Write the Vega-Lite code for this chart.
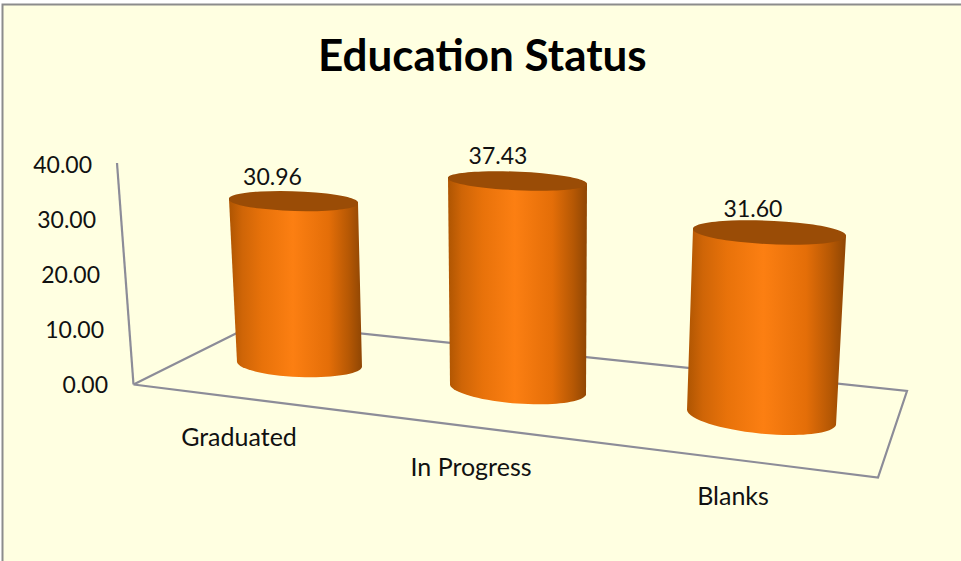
{
"$schema":"https://vega.github.io/schema/vega-lite/v6.json",
"width":961,"height":561,"padding":0,"autosize":"none","background":"#ffffff",
"view":{"stroke":null},
"config":{"text":{"font":"Lato","fontSize":23,"color":"#111111"}},
"title":{"text":"Education Status","font":"Lato","fontSize":44,"fontWeight":"bold","color":"#000000","anchor":"start","orient":"top","offset":-115,"dx":318,"baseline":"alphabetic"},
"data":{"values":[{"category":"Graduated","value":30.96},{"category":"In Progress","value":37.43},{"category":"Blanks","value":31.6}]},
"resolve":{"scale":{"x":"independent","y":"independent"},"axis":{"y":"independent","x":"independent"}},
"layer":[
{"data":{"values":[{"x0":2.5,"y0":4.5,"x1":970,"y1":570}]},
 "mark":{"type":"rect","fill":"#FFFFE1","stroke":"#8C8C8C","strokeWidth":2},
 "encoding":{"x":{"field":"x0","type":"quantitative","scale":{"domain":[0,961],"range":[0,961],"nice":false,"zero":false},"axis":null},"x2":{"field":"x1"},
 "y":{"field":"y0","type":"quantitative","scale":{"domain":[0,561],"range":[0,561],"nice":false,"zero":false},"axis":null},"y2":{"field":"y1"}}},
{"data":{"values":[
 {"edge":"wall","seq":1,"across":117,"down":163},{"edge":"wall","seq":2,"across":133.5,"down":384.5},
 {"edge":"floor","seq":3,"across":133.5,"down":384.5},{"edge":"floor","seq":4,"across":258,"down":322.6},{"edge":"floor","seq":5,"across":907,"down":391},{"edge":"floor","seq":6,"across":878,"down":477.5},{"edge":"floor","seq":7,"across":133.5,"down":384.5}]},
 "mark":{"type":"line","stroke":"#8C8C98","strokeWidth":2.2,"strokeJoin":"miter"},
 "encoding":{"x":{"field":"across","type":"quantitative","scale":{"domain":[0,961],"range":[0,961],"nice":false,"zero":false},"axis":null},
 "y":{"field":"down","type":"quantitative","scale":{"domain":[0,561],"range":[0,561],"nice":false,"zero":false},"axis":null},
 "order":{"field":"seq"},"detail":{"field":"edge"}}},
{"data":{"values":[{"tick":0},{"tick":10},{"tick":20},{"tick":30},{"tick":40}]},
 "mark":{"type":"text","align":"right","baseline":"middle"},
 "encoding":{"text":{"field":"tick","type":"quantitative","format":".2f"},
 "x":{"field":"tick","type":"quantitative","scale":{"domain":[0,40],"range":[108,92],"nice":false,"zero":false},"axis":null},
 "y":{"field":"tick","type":"quantitative","scale":{"domain":[0,40],"range":[386,166],"nice":false},"axis":null}}},
{"transform":[{"filter":"datum.category==='Graduated'"}],
 "encoding":{"x":{"field":"category","type":"nominal","scale":{"type":"band","domain":["Graduated"],"range":[229,358],"paddingInner":0,"paddingOuter":0},"axis":null},
 "y":{"field":"value","type":"quantitative","scale":{"domain":[0,40],"range":[364.5,153.3],"nice":false},"axis":null}},
 "layer":[
 {"mark":{"type":"point","filled":true,"opacity":1,"size":4,"shape":"M-64.5,-2L64.5,2L68.5,166A62.6,13 2.3 0 1 -56.5,161Z","fill":{"gradient":"linear","x1":0,"x2":1,"y1":0,"y2":0,"stops":[{"offset":0,"color":"#AE5502"},{"offset":0.1,"color":"#CF6507"},{"offset":0.25,"color":"#E8720A"},{"offset":0.48,"color":"#FC7F12"},{"offset":0.75,"color":"#E46E08"},{"offset":0.9,"color":"#B65804"},{"offset":1,"color":"#8F4604"}]}}},
 {"mark":{"type":"point","filled":true,"opacity":1,"size":4,"shape":"M-64.5,-2A64.6,9.5 1.8 1 1 64.5,2A64.6,9.5 1.8 1 1 -64.5,-2Z","fill":"#9A4C06"}},
 {"mark":{"type":"text","dx":-21,"dy":-23},"encoding":{"text":{"field":"value","format":".2f"}}},
 {"mark":{"type":"text","dx":-54.5,"dy":73.5,"fontSize":25},"encoding":{"text":{"field":"category"},"y":{"datum":0}}}
 ]},
{"transform":[{"filter":"datum.category==='In Progress'"}],
 "encoding":{"x":{"field":"category","type":"nominal","scale":{"type":"band","domain":["In Progress"],"range":[448,587],"paddingInner":0,"paddingOuter":0},"axis":null},
 "y":{"field":"value","type":"quantitative","scale":{"domain":[0,40],"range":[390,166.6],"nice":false},"axis":null}},
 "layer":[
 {"mark":{"type":"point","filled":true,"opacity":1,"size":4,"shape":"M-69.5,-3L69.5,3L68.5,214A68.5,15 4.2 0 1 -67.5,204Z","fill":{"gradient":"linear","x1":0,"x2":1,"y1":0,"y2":0,"stops":[{"offset":0,"color":"#AE5502"},{"offset":0.1,"color":"#CF6507"},{"offset":0.25,"color":"#E8720A"},{"offset":0.48,"color":"#FC7F12"},{"offset":0.75,"color":"#E46E08"},{"offset":0.9,"color":"#B65804"},{"offset":1,"color":"#8F4604"}]}}},
 {"mark":{"type":"point","filled":true,"opacity":1,"size":4,"shape":"M-69.5,-3A69.6,9 2.5 1 1 69.5,3A69.6,9 2.5 1 1 -69.5,-3Z","fill":"#9A4C06"}},
 {"mark":{"type":"text","dx":-19.5,"dy":-24},"encoding":{"text":{"field":"value","format":".2f"}}},
 {"mark":{"type":"text","dx":-46.5,"dy":78,"fontSize":25},"encoding":{"text":{"field":"category"},"y":{"datum":0}}}
 ]},
{"transform":[{"filter":"datum.category==='Blanks'"}],
 "encoding":{"x":{"field":"category","type":"nominal","scale":{"type":"band","domain":["Blanks"],"range":[693,846],"paddingInner":0,"paddingOuter":0},"axis":null},
 "y":{"field":"value","type":"quantitative","scale":{"domain":[0,40],"range":[417.5,183.3],"nice":false},"axis":null}},
 "layer":[
 {"mark":{"type":"point","filled":true,"opacity":1,"size":4,"shape":"M-76.5,-3.5L76.5,3.5L66.5,192.5A75,17 5.7 0 1 -82.5,177.5Z","fill":{"gradient":"linear","x1":0,"x2":1,"y1":0,"y2":0,"stops":[{"offset":0,"color":"#AE5502"},{"offset":0.1,"color":"#CF6507"},{"offset":0.25,"color":"#E8720A"},{"offset":0.48,"color":"#FC7F12"},{"offset":0.75,"color":"#E46E08"},{"offset":0.9,"color":"#B65804"},{"offset":1,"color":"#8F4604"}]}}},
 {"mark":{"type":"point","filled":true,"opacity":1,"size":4,"shape":"M-76.5,-3.5A76.6,11.5 2.6 1 1 76.5,3.5A76.6,11.5 2.6 1 1 -76.5,-3.5Z","fill":"#9A4C06"}},
 {"mark":{"type":"text","dx":-16.5,"dy":-22.5},"encoding":{"text":{"field":"value","format":".2f"}}},
 {"mark":{"type":"text","dx":-36.5,"dy":79.5,"fontSize":25},"encoding":{"text":{"field":"category"},"y":{"datum":0}}}
 ]}
]}
